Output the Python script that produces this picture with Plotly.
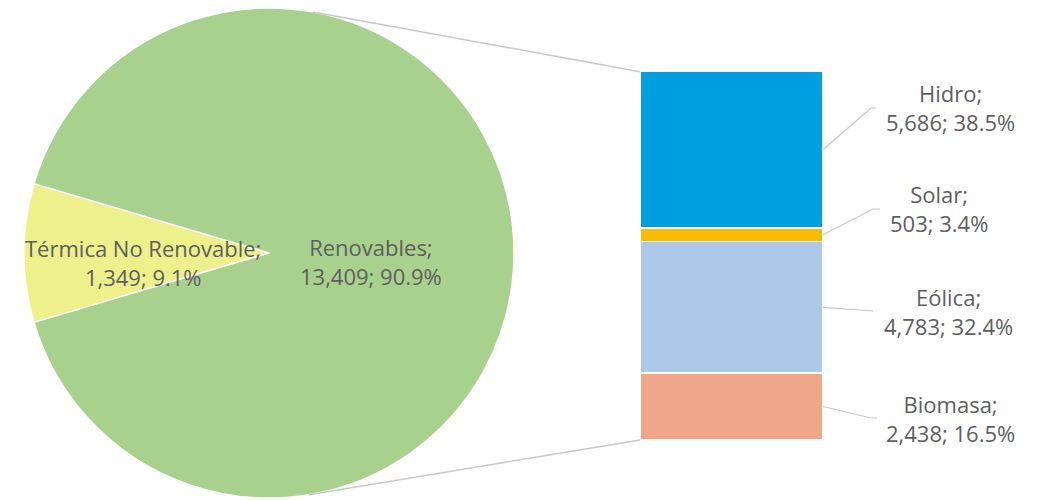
import math
import plotly.graph_objects as go

# --- data -------------------------------------------------------------
pie_labels = ["Térmica No Renovable", "Renovables"]
pie_values = [1349, 13409]
pie_colors = ["#eef08b", "#a9d18e"]

bar_labels = ["Biomasa", "Eólica", "Solar", "Hidro"]          # bottom -> top
bar_values = [2438, 4783, 503, 5686]
bar_colors = ["#f0a688", "#adc8e8", "#f8bd00", "#009fdf"]

grand_total = sum(pie_values)
bar_total = sum(bar_values)

# --- layout geometry (pixels, figure is 1037 x 500) -------------------
W, H = 1037, 500
PIE_CX, PIE_CY, PIE_R = 269, 253, 245
BAR_X0, BAR_X1 = 640, 823
BAR_TOP, BAR_BOT = 71.7, 440

TEXT = "#5e5e5e"
LINE = "#c8c8c8"
FONT = "Open Sans"
FS = 22


def px(x):
    return x / W


def py(y):
    return 1 - y / H


def fmt(label, v):
    return f"{label};<br>{v:,}; {100 * v / grand_total:.1f}%"


fig = go.Figure()

# pie: first slice centred at 9 o'clock, clockwise
first_frac = pie_values[0] / grand_total
fig.add_trace(go.Pie(
    labels=pie_labels,
    values=pie_values,
    sort=False,
    direction="clockwise",
    rotation=270 - first_frac * 180,
    marker=dict(colors=pie_colors, line=dict(color="white", width=1.5)),
    textinfo="none",
    hoverinfo="label+value+percent",
    showlegend=False,
    domain=dict(x=[px(PIE_CX - PIE_R), px(PIE_CX + PIE_R)],
                y=[py(PIE_CY + PIE_R), py(PIE_CY - PIE_R)]),
))

# stacked bar breaking down the renewable slice
for lab, val, col in zip(bar_labels, bar_values, bar_colors):
    fig.add_trace(go.Bar(
        x=[0], y=[val], width=1, name=lab,
        marker=dict(color=col, line=dict(color="white", width=1.5)),
        showlegend=False, xaxis="x", yaxis="y",
        hovertemplate=f"{lab}: %{{y:,}}<extra></extra>",
    ))

ydom = [py(BAR_BOT), py(BAR_TOP)]


def bar_y_px(v):
    return BAR_BOT - (v / bar_total) * (BAR_BOT - BAR_TOP)


shapes = []
annotations = []

# connector lines: tangents from the bar's left corners to the pie
def tangent(p, upper):
    dx, dy = p[0] - PIE_CX, p[1] - PIE_CY
    d = math.hypot(dx, dy)
    base = math.atan2(dy, dx)
    off = math.acos(PIE_R / d)
    a = base - off if upper else base + off
    return PIE_CX + PIE_R * math.cos(a), PIE_CY + PIE_R * math.sin(a)


for corner, upper in [((BAR_X0, BAR_TOP), True), ((BAR_X0, BAR_BOT), False)]:
    tx, ty = tangent(corner, upper)
    shapes.append(dict(type="line", xref="paper", yref="paper",
                       x0=px(tx), y0=py(ty), x1=px(corner[0]), y1=py(corner[1]),
                       line=dict(color=LINE, width=1.5)))

# bar segment labels with leader lines
label_pos = {
    "Hidro": (950, 108, 871, 876),
    "Solar": (939, 209, 873, 880),
    "Eólica": (948, 311, 873, 873),
    "Biomasa": (950, 418, 871, 877),
}
cum = 0
for lab, val in zip(bar_labels, bar_values):
    mid = bar_y_px(cum + val / 2)
    cum += val
    lx, ly, ex, ex2 = label_pos[lab]
    shapes.append(dict(type="path", xref="paper", yref="paper",
                       path=f"M {px(BAR_X1)},{py(mid)} L {px(ex)},{py(ly)} L {px(ex2)},{py(ly)}",
                       line=dict(color=LINE, width=1.2)))
    annotations.append(dict(x=px(lx), y=py(ly), xref="paper", yref="paper",
                            text=fmt(lab, val), showarrow=False,
                            xanchor="center", yanchor="middle",
                            font=dict(family=FONT, size=FS, color=TEXT)))

# pie labels
for lab, val, (lx, ly) in zip(pie_labels, pie_values, [(143, 262), (371, 261)]):
    annotations.append(dict(x=px(lx), y=py(ly), xref="paper", yref="paper",
                            text=fmt(lab, val), showarrow=False,
                            xanchor="center", yanchor="middle",
                            font=dict(family=FONT, size=FS, color=TEXT)))

fig.update_layout(
    width=W, height=H,
    margin=dict(l=0, r=0, t=0, b=0),
    paper_bgcolor="white", plot_bgcolor="white",
    barmode="stack",
    xaxis=dict(domain=[px(BAR_X0), px(BAR_X1)], range=[-0.5, 0.5],
               visible=False, fixedrange=True),
    yaxis=dict(domain=ydom, range=[0, bar_total], visible=False, fixedrange=True),
    shapes=shapes,
    annotations=annotations,
    font=dict(family=FONT, color=TEXT),
)

fig.write_html("out.html")
